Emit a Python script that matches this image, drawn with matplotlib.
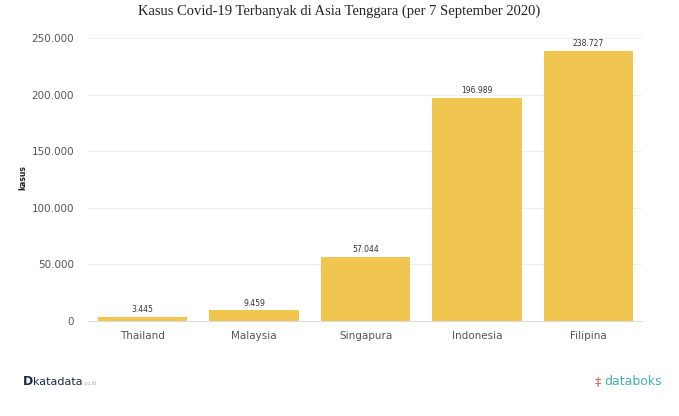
import matplotlib
matplotlib.use("Agg")
import matplotlib.pyplot as plt
from matplotlib.ticker import FuncFormatter

# data
negara = ["Thailand", "Malaysia", "Singapura", "Indonesia", "Filipina"]
kasus = [3445, 9459, 57044, 196989, 238727]
yticks = [0, 50000, 100000, 150000, 200000, 250000]

bar_color = "#F0C550"

def titik(v):
    # thousands separator with a dot, Indonesian style
    return f"{int(v):,}".replace(",", ".")

fig = plt.figure(figsize=(6.79, 4.16), dpi=100)
ax = fig.add_axes([0.1296, 0.228, 0.8159, 0.681])

x = range(len(negara))
bars = ax.bar(x, kasus, width=0.8, color=bar_color, zorder=2)

for b, v in zip(bars, kasus):
    ax.text(b.get_x() + b.get_width() / 2, v + 2500, titik(v),
            ha="center", va="bottom", fontsize=5.5, color="#333333")

ax.set_xlim(-0.49, 4.48)
ax.set_ylim(0, 250000)
ax.set_yticks(yticks)
ax.yaxis.set_major_formatter(FuncFormatter(lambda v, p: titik(v)))
ax.set_xticks(list(x))
ax.set_xticklabels(negara)

ax.grid(axis="y", color="#eeeeee", linewidth=0.8, zorder=0)
for s in ["top", "right", "left"]:
    ax.spines[s].set_visible(False)
ax.spines["bottom"].set_color("#dddddd")
ax.tick_params(axis="both", length=0, labelsize=7.5, colors="#555555")
ax.tick_params(axis="y", pad=10)
ax.tick_params(axis="x", pad=7)

fig.text(0.034, 0.572, "kasus", rotation=90, ha="center", va="center",
         fontsize=5.5, fontweight="bold", color="#222222")

fig.text(0.5, 0.972, "Kasus Covid-19 Terbanyak di Asia Tenggara (per 7 September 2020)",
         ha="center", va="center", fontsize=10.5, family="Liberation Serif",
         color="#222222")

# footer branding
fig.text(0.033, 0.082, "D", fontsize=9, fontweight="bold", color="#1c2a4a",
         ha="left", va="center")
fig.text(0.049, 0.082, "katadata", fontsize=8, color="#1c2a4a",
         ha="left", va="center")
fig.text(0.123, 0.078, ".co.id", fontsize=3.5, color="#aaaaaa",
         ha="left", va="center")
fig.text(0.876, 0.082, "\u2021", fontsize=9, color="#e8604c",
         ha="left", va="center")
fig.text(0.890, 0.082, "databoks", fontsize=9, color="#3fb3a8",
         ha="left", va="center")

fig.savefig("out.png", dpi=100)
